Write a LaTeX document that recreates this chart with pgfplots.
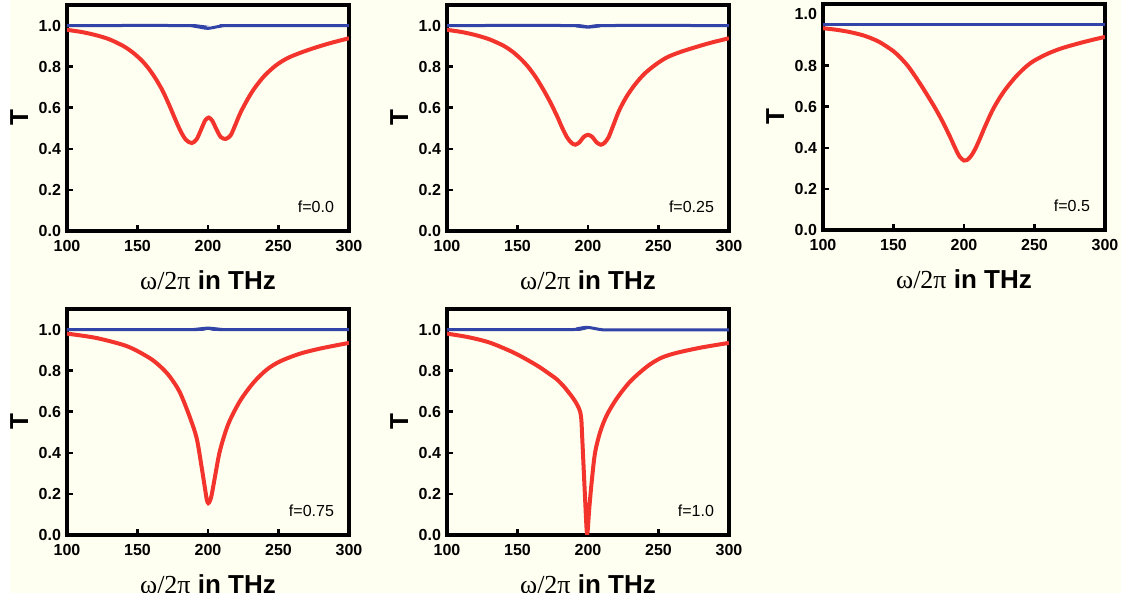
\documentclass[border=0pt]{standalone}
\usepackage{fontspec}
\setmainfont{Liberation Sans}
\newfontfamily\tnr{Liberation Serif}
\usepackage{pgfplots}
\pgfplotsset{compat=1.18}
\usepackage{pgfplotstable}
\definecolor{cream}{RGB}{255,255,241}
\definecolor{cred}{RGB}{242,52,45}
\definecolor{cblue}{RGB}{50,68,168}

% ---------- data (x in THz, T) ----------
\pgfplotstableread{
x y
100 0.979
110 0.969
120 0.954
130 0.933
140 0.900
147 0.867
153 0.830
158 0.790
163 0.740
168 0.680
173 0.605
177 0.540
181 0.480
184.5 0.443
188.5 0.428
192 0.447
195.5 0.500
198 0.538
200.5 0.552
203 0.537
206 0.495
209 0.458
212.5 0.448
216 0.465
219 0.510
223 0.575
228 0.640
233 0.695
240 0.755
248 0.805
256 0.840
265 0.866
275 0.890
287 0.915
300 0.938
}\redA
\pgfplotstableread{
x y
100 1.0
185 1.0
190 0.997
195 0.991
200 0.986
205 0.992
210 0.998
215 1.0
300 1.0
}\blueA
\pgfplotstableread{
x y
100 0.979
110 0.969
120 0.954
130 0.933
140 0.902
147 0.870
153 0.833
158 0.795
163 0.748
168 0.692
173 0.630
178 0.560
182 0.498
185.5 0.452
188.5 0.428
191 0.420
194 0.432
197 0.458
200 0.468
203 0.458
206 0.432
209 0.420
211.5 0.428
214.5 0.455
218 0.515
222 0.585
227 0.650
233 0.710
240 0.765
248 0.810
256 0.845
265 0.870
275 0.892
287 0.916
300 0.938
}\redB
\pgfplotstableread{
x y
100 1.0
188 1.0
194 0.996
200 0.992
206 0.996
212 1.0
300 1.0
}\blueB
\pgfplotstableread{
x y
100 0.982
110 0.974
120 0.962
130 0.944
140 0.915
150 0.870
155 0.838
160 0.800
165 0.752
170 0.700
175 0.645
180 0.588
185 0.525
190 0.455
194 0.395
197 0.356
200 0.338
202 0.340
205 0.360
208 0.395
211 0.440
215 0.505
220 0.580
225 0.640
230 0.690
237 0.748
244 0.795
250 0.825
260 0.860
270 0.886
285 0.915
300 0.940
}\redC
\pgfplotstableread{
x y
100 1.0
300 1.0
}\blueC
\pgfplotstableread{
x y
100 0.980
120 0.960
140 0.925
150 0.895
160 0.855
167 0.815
173 0.770
180 0.695
187.2 0.572
192.0 0.470
195.5 0.330
197.9 0.225
199.2 0.170
200.2 0.155
201.3 0.165
202.6 0.195
205.0 0.285
208.5 0.411
214.4 0.540
222.7 0.652
232.2 0.741
241.7 0.805
251.1 0.845
265 0.882
280 0.908
300 0.935
}\redD
\pgfplotstableread{
x y
100 1.0
190 1.0
195 1.004
200 1.007
205 1.004
210 1.0
300 1.0
}\blueD
\pgfplotstableread{
x y
100 0.980
115 0.963
130 0.937
145 0.895
155 0.860
165 0.820
172 0.787
178 0.757
183 0.722
187 0.688
190.5 0.655
193 0.625
194.5 0.598
195.3 0.560
195.9 0.475
197.0 0.314
198.1 0.153
198.9 0.040
199.4 0.002
200.0 0.040
200.8 0.120
202.5 0.250
205.0 0.400
208.9 0.507
213.7 0.588
220.8 0.668
230.2 0.749
242.1 0.821
251.6 0.861
262 0.885
280 0.912
300 0.935
}\redE
\pgfplotstableread{
x y
100 1.0
188 1.0
194 1.006
199 1.011
204 1.006
210 0.999
220 0.998
300 0.998
}\blueE

\pgfplotsset{
  panel/.style={
    scale only axis, width=141pt, height=113pt,
    anchor=south west,
    xmin=100, xmax=300, ymin=0, ymax=1.1,
    xtick={100,150,200,250,300},
    ytick={0,0.2,0.4,0.6,0.8,1.0},
    xtick pos=bottom, ytick pos=left,
    tick align=inside,
    major tick length=3pt,
    every tick/.style={black, line width=1.3pt},
    axis line style={line width=1.7pt},
    /pgf/number format/assume math mode=true,
    tick label style={font=\fontsize{8}{9}\selectfont\bfseries},
    yticklabel style={/pgf/number format/fixed, /pgf/number format/fixed zerofill, /pgf/number format/precision=1, xshift=0.5pt},
    xticklabel style={yshift=-1.2pt},
    xlabel={{\tnr\mdseries ω/2π} in THz},
    xlabel style={font=\fontsize{13}{15}\selectfont\bfseries, at={(axis description cs:0.5,0)}, anchor=base, yshift=-29.5pt},
    ylabel={T},
    ylabel style={font=\fontsize{13}{15}\selectfont\bfseries, at={(axis description cs:-0.17,0.5)}, anchor=center},
    clip=true,
  },
  blueline/.style={cblue, line width=1.5pt, smooth, tension=0.5},
  redline/.style={cred, line width=2pt, smooth, tension=0.5},
}
\newcommand{\flabel}[1]{\node[anchor=base east, xshift=-4pt, yshift=9pt, font=\fontsize{8}{9}\selectfont] at (rel axis cs:1,0) {#1};}

\begin{document}
\begin{tikzpicture}
\path[use as bounding box] (0,0) rectangle (560.5pt,301.5pt);
\fill[white] (0,0) rectangle (560.5pt,301.5pt);
\fill[cream] (5pt,5pt) rectangle (560.5pt,301.5pt);
\begin{scope}
\clip (5pt,5pt) rectangle (560.5pt,301.5pt);

\begin{axis}[panel, at={(33.5pt,186pt)}]
\addplot[blueline] table {\blueA};
\addplot[redline] table {\redA};
\flabel{f=0.0}
\end{axis}

\begin{axis}[panel, at={(223.5pt,186pt)}]
\addplot[blueline] table {\blueB};
\addplot[redline] table {\redB};
\flabel{f=0.25}
\end{axis}

\begin{axis}[panel, at={(411.5pt,186.5pt)},
  ytick={0,0.2,0.4,0.6,0.8}, extra y ticks={1.05}, extra y tick labels={1.0},
  extra y tick style={major tick length=0pt}]
\addplot[blueline] table {\blueC};
\addplot[redline] table {\redC};
\flabel{f=0.5}
\end{axis}

\begin{axis}[panel, at={(33.5pt,34pt)}]
\addplot[blueline] table {\blueD};
\addplot[redline] table {\redD};
\flabel{f=0.75}
\end{axis}

\begin{axis}[panel, at={(223.5pt,34pt)}]
\addplot[blueline] table {\blueE};
\addplot[redline] table {\redE};
\flabel{f=1.0}
\end{axis}
\end{scope}
\end{tikzpicture}
\end{document}
